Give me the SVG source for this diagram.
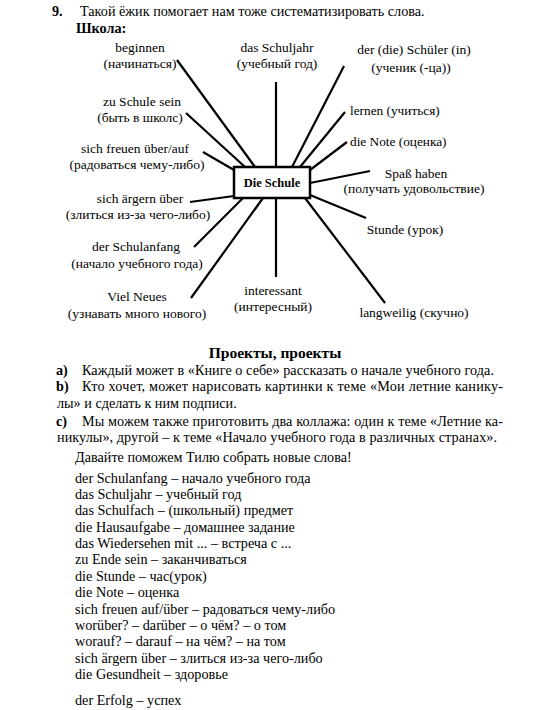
<svg xmlns="http://www.w3.org/2000/svg" width="550" height="710" viewBox="0 0 550 710" font-family="'Liberation Serif', 'Noto Serif', 'DejaVu Serif', FreeSerif, Tinos, 'Times New Roman', Times, serif">
<style>
text{font-family:'Liberation Serif','Noto Serif','DejaVu Serif',FreeSerif,Tinos,'Nimbus Roman','Times New Roman',Times,serif;fill:#000;}
.t{font-size:14.2px;}
.l{font-size:13.5px;text-anchor:middle;}
.ls{font-size:13.3px;}
.b{font-weight:bold;}
.c line{stroke:#000;stroke-width:2.2;stroke-linecap:butt;}
</style>
<rect width="550" height="710" fill="#fff"/>
<g id="header">
<text class="t b" x="52" y="16">9.</text>
<text class="t" x="80" y="16">Такой ёжик помогает нам тоже систематизировать слова.</text>
<text class="t b" x="76" y="33">Школа:</text>
</g>
<g class="c" id="connectors">
<line x1="177" y1="60" x2="255" y2="167"/>
<line x1="276" y1="82" x2="276" y2="167"/>
<line x1="344" y1="66" x2="292" y2="167"/>
<line x1="186" y1="113" x2="245" y2="167"/>
<line x1="345" y1="112" x2="300" y2="167"/>
<line x1="203" y1="152" x2="234" y2="170"/>
<line x1="347" y1="142" x2="310" y2="170"/>
<line x1="310" y1="183" x2="370" y2="171"/>
<line x1="190" y1="202" x2="234" y2="196"/>
<line x1="310" y1="195" x2="366" y2="218"/>
<line x1="194" y1="247" x2="243" y2="198"/>
<line x1="191" y1="298" x2="263" y2="198"/>
<line x1="276" y1="198" x2="276" y2="277"/>
<line x1="305" y1="198" x2="385" y2="303"/>
</g>
<g id="center">
<rect x="234" y="167" width="76" height="31" fill="#fff" stroke="#000" stroke-width="2.5"/>
<text class="b" x="272" y="187" font-size="12.5" text-anchor="middle">Die Schule</text>
</g>
<g id="n-beginnen"><text class="l" x="140" y="52">beginnen</text><text class="l" x="140" y="68">(начинаться)</text></g>
<g id="n-schuljahr"><text class="l" x="277" y="52">das Schuljahr</text><text class="l" x="277" y="68">(учебный год)</text></g>
<g id="n-schueler"><text class="l" x="414" y="54">der (die) Schüler (in)</text><text class="l" x="411" y="72">(ученик (-ца))</text></g>
<g id="n-zuschule"><text class="l" x="142" y="106">zu Schule sein</text><text class="l" x="140" y="122">(быть в школс)</text></g>
<g id="n-lernen"><text class="ls" x="350" y="115">lernen (учиться)</text></g>
<g id="n-freuen"><text class="l" x="135" y="153">sich freuen über/auf</text><text class="l" x="137" y="169">(радоваться чему-либо)</text></g>
<g id="n-note"><text class="ls" x="350" y="146">die Note (оценка)</text></g>
<g id="n-spass"><text class="l" x="416" y="178">Spaß haben</text><text class="l" x="414" y="193">(получать удовольствие)</text></g>
<g id="n-aergern"><text class="l" x="140" y="203">sich ärgern über</text><text class="l" x="138" y="219">(злиться из-за чего-либо)</text></g>
<g id="n-stunde"><text class="l" x="405" y="234">Stunde (урок)</text></g>
<g id="n-schulanfang"><text class="l" x="136" y="251">der Schulanfang</text><text class="l" x="137" y="268">(начало учебного года)</text></g>
<g id="n-vielneues"><text class="l" x="137" y="301">Viel Neues</text><text class="l" x="137" y="318">(узнавать много нового)</text></g>
<g id="n-interessant"><text class="l" x="273" y="295">interessant</text><text class="l" x="273" y="311">(интересный)</text></g>
<g id="n-langweilig"><text class="l" x="414" y="317">langweilig (скучно)</text></g>
<g id="projects">
<text class="b" x="275" y="358" font-size="15.5" text-anchor="middle">Проекты, проекты</text>
<text class="t b" x="56" y="375">a)</text>
<text class="t" x="82" y="375" textLength="412" lengthAdjust="spacing">Каждый может в «Книге о себе» рассказать о начале учебного года.</text>
<text class="t b" x="56" y="391">b)</text>
<text class="t" x="82" y="391" textLength="421" lengthAdjust="spacing">Кто хочет, может нарисовать картинки к теме «Мои летние канику-</text>
<text class="t" x="57" y="408">лы» и сделать к ним подписи.</text>
<text class="t b" x="56" y="426">c)</text>
<text class="t" x="82" y="426" textLength="421" lengthAdjust="spacing">Мы можем также приготовить два коллажа: один к теме «Летние ка-</text>
<text class="t" x="57" y="442" textLength="440" lengthAdjust="spacing">никулы», другой – к теме «Начало учебного года в различных странах».</text>
<text class="t" x="75" y="462">Давайте поможем Тилю собрать новые слова!</text>
</g>
<g id="wordlist">
<text class="t" x="75" y="483">der Schulanfang – начало учебного года</text>
<text class="t" x="75" y="499">das Schuljahr – учебный год</text>
<text class="t" x="75" y="515">das Schulfach – (школьный) предмет</text>
<text class="t" x="75" y="532">die Hausaufgabe – домашнее задание</text>
<text class="t" x="75" y="548">das Wiedersehen mit ... – встреча с ...</text>
<text class="t" x="75" y="564">zu Ende sein – заканчиваться</text>
<text class="t" x="75" y="581">die Stunde – час(урок)</text>
<text class="t" x="75" y="597">die Note – оценка</text>
<text class="t" x="75" y="614">sich freuen auf/über – радоваться чему-либо</text>
<text class="t" x="75" y="630">worüber? – darüber – о чём? – о том</text>
<text class="t" x="75" y="646">worauf? – darauf – на чём? – на том</text>
<text class="t" x="75" y="663">sich ärgern über – злиться из-за чего-либо</text>
<text class="t" x="75" y="679">die Gesundheit – здоровье</text>
<text class="t" x="75" y="705">der Erfolg – успех</text>
</g>
</svg>
